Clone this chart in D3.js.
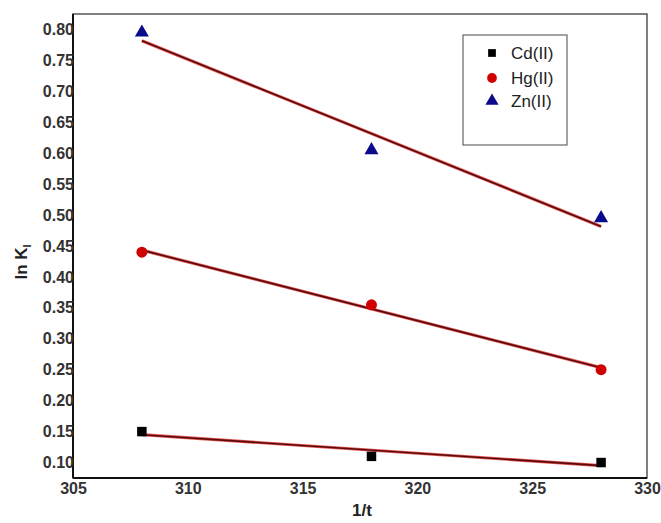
<!DOCTYPE html>
<html><head><meta charset="utf-8">
<script src="https://cdn.jsdelivr.net/npm/d3@7"></script>
<style>body{margin:0;background:#fff;}svg{display:block;font-family:Arial,"Liberation Sans",sans-serif;}</style>
</head><body><svg id="c" width="661" height="523"></svg>
<script>
const xValues = [308, 318, 328];
const cdValues = [0.15, 0.11, 0.10];
const hgValues = [0.44, 0.355, 0.25];
const znValues = [0.795, 0.605, 0.495];
const seriesNames = ["Cd(II)", "Hg(II)", "Zn(II)"];
const xTicks = [305, 310, 315, 320, 325, 330];
const yTicks = [0.10,0.15,0.20,0.25,0.30,0.35,0.40,0.45,0.50,0.55,0.60,0.65,0.70,0.75,0.80];

const svg = d3.select("#c");
const L = 73, R = 647, T = 14, B = 478;
const x = d3.scaleLinear().domain([305, 330]).range([L, R]);
const y = d3.scaleLinear().domain([0.075, 0.825]).range([B, T]);

// frame
svg.append("rect").attr("x", L).attr("y", T).attr("width", R-L).attr("height", B-T)
  .attr("fill", "none").attr("stroke", "#555").attr("stroke-width", 1.5);
svg.append("line").attr("x1", L).attr("x2", L).attr("y1", T).attr("y2", B).attr("stroke", "#111").attr("stroke-width", 2);
svg.append("line").attr("x1", L).attr("x2", R).attr("y1", B).attr("y2", B).attr("stroke", "#111").attr("stroke-width", 2);

// axes (labels only)
const xAxis = d3.axisBottom(x).tickValues(xTicks).tickSize(0).tickPadding(5).tickFormat(d3.format("d"));
const gx = svg.append("g").attr("transform", `translate(0,${B})`).call(xAxis);
gx.select(".domain").remove();
gx.selectAll("text").attr("font-size", 16).attr("font-weight", "bold").attr("fill", "#333")
  .attr("font-family", "Arial, 'Liberation Sans', sans-serif");

const yAxis = d3.axisLeft(y).tickValues(yTicks).tickSize(0).tickPadding(0).tickFormat(d3.format(".2f"));
const gy = svg.append("g").attr("transform", `translate(${L+1},0)`).call(yAxis);
gy.select(".domain").remove();
gy.selectAll("text").attr("font-size", 16).attr("font-weight", "bold").attr("fill", "#333")
  .attr("font-family", "Arial, 'Liberation Sans', sans-serif");

// axis titles
svg.append("text").attr("x", 362).attr("y", 516).attr("text-anchor", "middle")
  .attr("font-size", 17).attr("font-weight", "bold").attr("fill", "#222").text("1/t");
const yl = svg.append("text").attr("transform", "translate(27,262) rotate(-90)").attr("text-anchor", "middle")
  .attr("font-size", 17).attr("font-weight", "bold").attr("fill", "#222");
yl.append("tspan").text("ln K");
yl.append("tspan").attr("font-size", 11).attr("dy", 4).text("l");

// regression lines
function fit(xs, ys) {
  const mx = d3.mean(xs), my = d3.mean(ys);
  const s = d3.sum(xs.map((v,i)=>(v-mx)*(ys[i]-my))) / d3.sum(xs.map(v=>(v-mx)*(v-mx)));
  return v => my + s*(v-mx);
}
const series = [
  {name: seriesNames[0], vals: cdValues},
  {name: seriesNames[1], vals: hgValues},
  {name: seriesNames[2], vals: znValues}
];
const x0 = d3.min(xValues), x1 = d3.max(xValues);
series.forEach(s => {
  const f = fit(xValues, s.vals);
  const pts = [[x0, f(x0)], [x1, f(x1)]];
  const line = d3.line().x(d=>x(d[0])).y(d=>y(d[1]));
  svg.append("path").attr("d", line(pts)).attr("stroke", "#e03030").attr("stroke-width", 3.2).attr("fill", "none").attr("opacity", 0.8);
  svg.append("path").attr("d", line(pts)).attr("stroke", "#5a0a0a").attr("stroke-width", 1.6).attr("fill", "none");
});

// markers
const sq = d3.symbol().type(d3.symbolSquare).size(90);
const ci = d3.symbol().type(d3.symbolCircle).size(95);
const tr = d3.symbol().type(d3.symbolTriangle).size(85);
svg.selectAll(".cd").data(cdValues).join("path").attr("d", sq)
  .attr("transform", (d,i)=>`translate(${x(xValues[i])},${y(d)})`).attr("fill", "#000");
svg.selectAll(".hg").data(hgValues).join("path").attr("d", ci)
  .attr("transform", (d,i)=>`translate(${x(xValues[i])},${y(d)})`).attr("fill", "#d00000");
svg.selectAll(".zn").data(znValues).join("path").attr("d", tr)
  .attr("transform", (d,i)=>`translate(${x(xValues[i])},${y(d)})`).attr("fill", "#0a0a8a");

// legend
const lg = svg.append("g");
lg.append("rect").attr("x", 463).attr("y", 35).attr("width", 104).attr("height", 110)
  .attr("fill", "#fff").attr("stroke", "#666").attr("stroke-width", 1.2);
const cols = ["#000", "#d00000", "#0a0a8a"], rows = [53, 78, 101];
const lsz = [60, 75, 75];
seriesNames.forEach((n, i) => {
  lg.append("path").attr("d", d3.symbol().type([d3.symbolSquare, d3.symbolCircle, d3.symbolTriangle][i]).size(lsz[i]))
    .attr("transform", `translate(492,${rows[i]})`).attr("fill", cols[i]);
  lg.append("text").attr("x", 511).attr("y", rows[i] + 6).attr("font-size", 17).attr("fill", "#222").text(n);
});
</script></body></html>
